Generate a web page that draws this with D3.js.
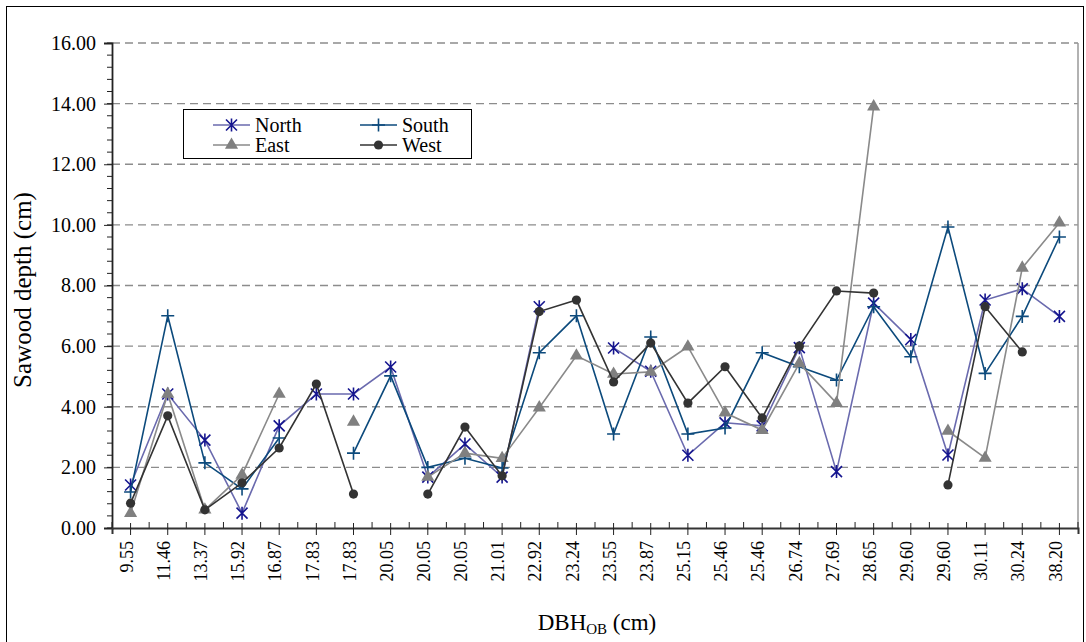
<!DOCTYPE html>
<html>
<head>
<meta charset="utf-8">
<script src="https://cdn.jsdelivr.net/npm/d3@7"></script>
<style>
  body { margin: 0; background: #fff; }
</style>
</head>
<body>
<div id="chart"></div>
<script>
'use strict';

// DBH outside bark (cm), one entry per sampled tree
var dbhLabels = ['9.55', '11.46', '13.37', '15.92', '16.87', '17.83', '17.83', '20.05', '20.05', '20.05',
  '21.01', '22.92', '23.24', '23.55', '23.87', '25.15', '25.46', '25.46', '26.74', '27.69',
  '28.65', '29.60', '29.60', '30.11', '30.24', '38.20'];

// sapwood depth per aspect, null where nothing was measured
var north = [1.42, 4.42, 2.90, 0.49, 3.37, 4.42, 4.42, 5.31, 1.68, 2.77,
  1.68, 7.30, null, 5.94, 5.17, 2.40, 3.47, 3.37, 5.95, 1.86,
  7.42, 6.22, 2.41, 7.52, 7.89, 6.98];
var south = [1.19, 7.00, 2.15, 1.29, 2.97, null, 2.47, 5.02, 2.00, 2.30,
  1.98, 5.78, 7.00, 3.10, 6.30, 3.10, 3.30, 5.78, 5.32, 4.88,
  7.30, 5.65, 9.93, 5.10, 6.98, 9.60];
var east = [0.49, 4.42, 0.60, 1.75, 4.42, null, 3.50, null, 1.68, 2.47,
  2.30, 3.97, 5.68, 5.08, 5.15, 5.98, 3.80, 3.23, 5.43, 4.12,
  13.90, null, 3.20, 2.31, 8.58, 10.07];
var west = [0.82, 3.70, 0.60, 1.49, 2.64, 4.75, 1.12, null, 1.12, 3.33,
  1.72, 7.14, 7.52, 4.82, 6.10, 4.12, 5.32, 3.63, 6.00, 7.82,
  7.75, null, 1.42, 7.30, 5.81, null];

var yTicks = [0, 2, 4, 6, 8, 10, 12, 14, 16];

var width = 1086, height = 642;
var plotLeft = 112, plotRight = 1078, plotTop = 43, plotBottom = 528;

var svg = d3.select('#chart').append('svg')
    .attr('width', width)
    .attr('height', height);

// outer chart border (bottom edge runs off the page)
svg.append('rect')
    .attr('x', 6.5).attr('y', 6.5)
    .attr('width', 1077).attr('height', 660)
    .attr('fill', 'none')
    .attr('stroke', '#000')
    .attr('stroke-width', 1);

var x = d3.scaleBand()
    .domain(d3.range(dbhLabels.length))
    .range([plotLeft, plotRight]);

var y = d3.scaleLinear()
    .domain([0, 16])
    .range([plotBottom, plotTop]);

function cx(i) { return x(i) + x.bandwidth() / 2; }

// dashed grid
svg.append('g')
  .selectAll('line')
  .data(yTicks.slice(1))
  .enter().append('line')
    .attr('x1', plotLeft).attr('x2', plotRight)
    .attr('y1', function(d) { return y(d); })
    .attr('y2', function(d) { return y(d); })
    .attr('stroke', '#8c8c8c')
    .attr('stroke-width', 1.3)
    .attr('stroke-dasharray', '8,5');

// right edge of plot area
svg.append('line')
    .attr('x1', plotRight).attr('x2', plotRight)
    .attr('y1', plotTop).attr('y2', plotBottom)
    .attr('stroke', '#999')
    .attr('stroke-width', 1.5);

// y axis with minor ticks
var minor = d3.range(0, 16.01, 0.4);
svg.append('g')
  .selectAll('line')
  .data(minor)
  .enter().append('line')
    .attr('x1', plotLeft - 5).attr('x2', plotLeft)
    .attr('y1', function(d) { return y(d); })
    .attr('y2', function(d) { return y(d); })
    .attr('stroke', '#222');

var yAxis = svg.append('g')
    .attr('transform', 'translate(' + plotLeft + ',0)')
    .call(d3.axisLeft(y).tickValues(yTicks).tickSize(8).tickPadding(8)
      .tickFormat(function(d) { return d.toFixed(2); }));
yAxis.select('.domain').attr('stroke', '#222').attr('stroke-width', 1.8);
yAxis.selectAll('.tick line').attr('stroke', '#222');
yAxis.selectAll('text').attr('fill', '#000').style('font-size', '20px');

// x axis: ticks between categories sit inside, category ticks cross the axis
svg.append('g')
  .selectAll('line')
  .data(d3.range(dbhLabels.length + 1))
  .enter().append('line')
    .attr('x1', function(d) { return plotLeft + d * x.step(); })
    .attr('x2', function(d) { return plotLeft + d * x.step(); })
    .attr('y1', plotBottom - 6).attr('y2', plotBottom)
    .attr('stroke', '#222');

var xAxis = svg.append('g')
    .attr('transform', 'translate(0,' + plotBottom + ')')
    .call(d3.axisBottom(x).tickSizeOuter(0).tickSize(6)
      .tickFormat(function(i) { return dbhLabels[i]; }));
xAxis.select('.domain').attr('stroke', '#333').attr('stroke-width', 2);
xAxis.selectAll('.tick line').attr('stroke', '#222').attr('y1', -5).attr('y2', 7);
xAxis.selectAll('text')
    .attr('fill', '#000')
    .style('font-size', '18px')
    .attr('text-anchor', 'end')
    .attr('transform', 'rotate(-90)')
    .attr('x', -13)
    .attr('y', 0)
    .attr('dy', '0.12em');

// axis titles
var xt = svg.append('text')
    .attr('x', 597).attr('y', 630)
    .attr('text-anchor', 'middle')
    .style('font-size', '23px');
xt.append('tspan').text('DBH');
xt.append('tspan').attr('dy', 4).style('font-size', '15px').text('OB');
xt.append('tspan').attr('dy', -4).text(' (cm)');

svg.append('text')
    .attr('transform', 'translate(31,290) rotate(-90)')
    .attr('text-anchor', 'middle')
    .style('font-size', '25px')
    .text('Sawood depth (cm)');

// series
var series = [
  { name: 'North', values: north, line: '#6a6aae', mark: '#15158f', shape: 'star' },
  { name: 'South', values: south, line: '#0c4a7c', mark: '#0c4a7c', shape: 'plus' },
  { name: 'East', values: east, line: '#8a8a8a', mark: '#808080', shape: 'triangle' },
  { name: 'West', values: west, line: '#333333', mark: '#333333', shape: 'circle' }
];

var line = d3.line()
    .defined(function(d) { return d != null; })
    .x(function(d, i) { return cx(i); })
    .y(function(d) { return y(d); });

function drawMarker(g, s, px, py) {
  if (s.shape === 'star') {
    g.append('path')
        .attr('d', 'M-5.5,-5.5L5.5,5.5M-5.5,5.5L5.5,-5.5M0,-6.5V6.5')
        .attr('transform', 'translate(' + px + ',' + py + ')')
        .attr('stroke', s.mark).attr('stroke-width', 1.6).attr('fill', 'none');
  } else if (s.shape === 'plus') {
    g.append('path')
        .attr('d', 'M-6.5,0H6.5M0,-6.5V6.5')
        .attr('transform', 'translate(' + px + ',' + py + ')')
        .attr('stroke', s.mark).attr('stroke-width', 1.6).attr('fill', 'none');
  } else if (s.shape === 'triangle') {
    g.append('path')
        .attr('d', d3.symbol().type(d3.symbolTriangle).size(75)())
        .attr('transform', 'translate(' + px + ',' + py + ')')
        .attr('fill', s.mark);
  } else {
    g.append('circle')
        .attr('cx', px).attr('cy', py).attr('r', 4.6)
        .attr('fill', s.mark);
  }
}

series.forEach(function(s) {
  var g = svg.append('g');
  g.append('path')
      .datum(s.values)
      .attr('d', line)
      .attr('fill', 'none')
      .attr('stroke', s.line)
      .attr('stroke-width', 1.6);
  s.values.forEach(function(v, i) {
    if (v != null) drawMarker(g, s, cx(i), y(v));
  });
});

// legend
var legend = svg.append('g');
legend.append('rect')
    .attr('x', 183.5).attr('y', 109.5)
    .attr('width', 288).attr('height', 49)
    .attr('fill', '#fff')
    .attr('stroke', '#000');

var legendPos = [[213, 125], [360, 125], [213, 145], [360, 145]];
series.forEach(function(s, k) {
  var p = legendPos[k];
  legend.append('line')
      .attr('x1', p[0]).attr('x2', p[0] + 37)
      .attr('y1', p[1]).attr('y2', p[1])
      .attr('stroke', s.line).attr('stroke-width', 1.6);
  drawMarker(legend, s, p[0] + 18.5, p[1]);
  legend.append('text')
      .attr('x', p[0] + 42).attr('y', p[1])
      .attr('dy', '0.35em')
      .style('font-size', '20px')
      .text(s.name);
});

// serif everywhere, like the original
svg.selectAll('text').style('font-family', 'Liberation Serif');
svg.selectAll('tspan').style('font-family', 'Liberation Serif');
</script>
</body>
</html>
